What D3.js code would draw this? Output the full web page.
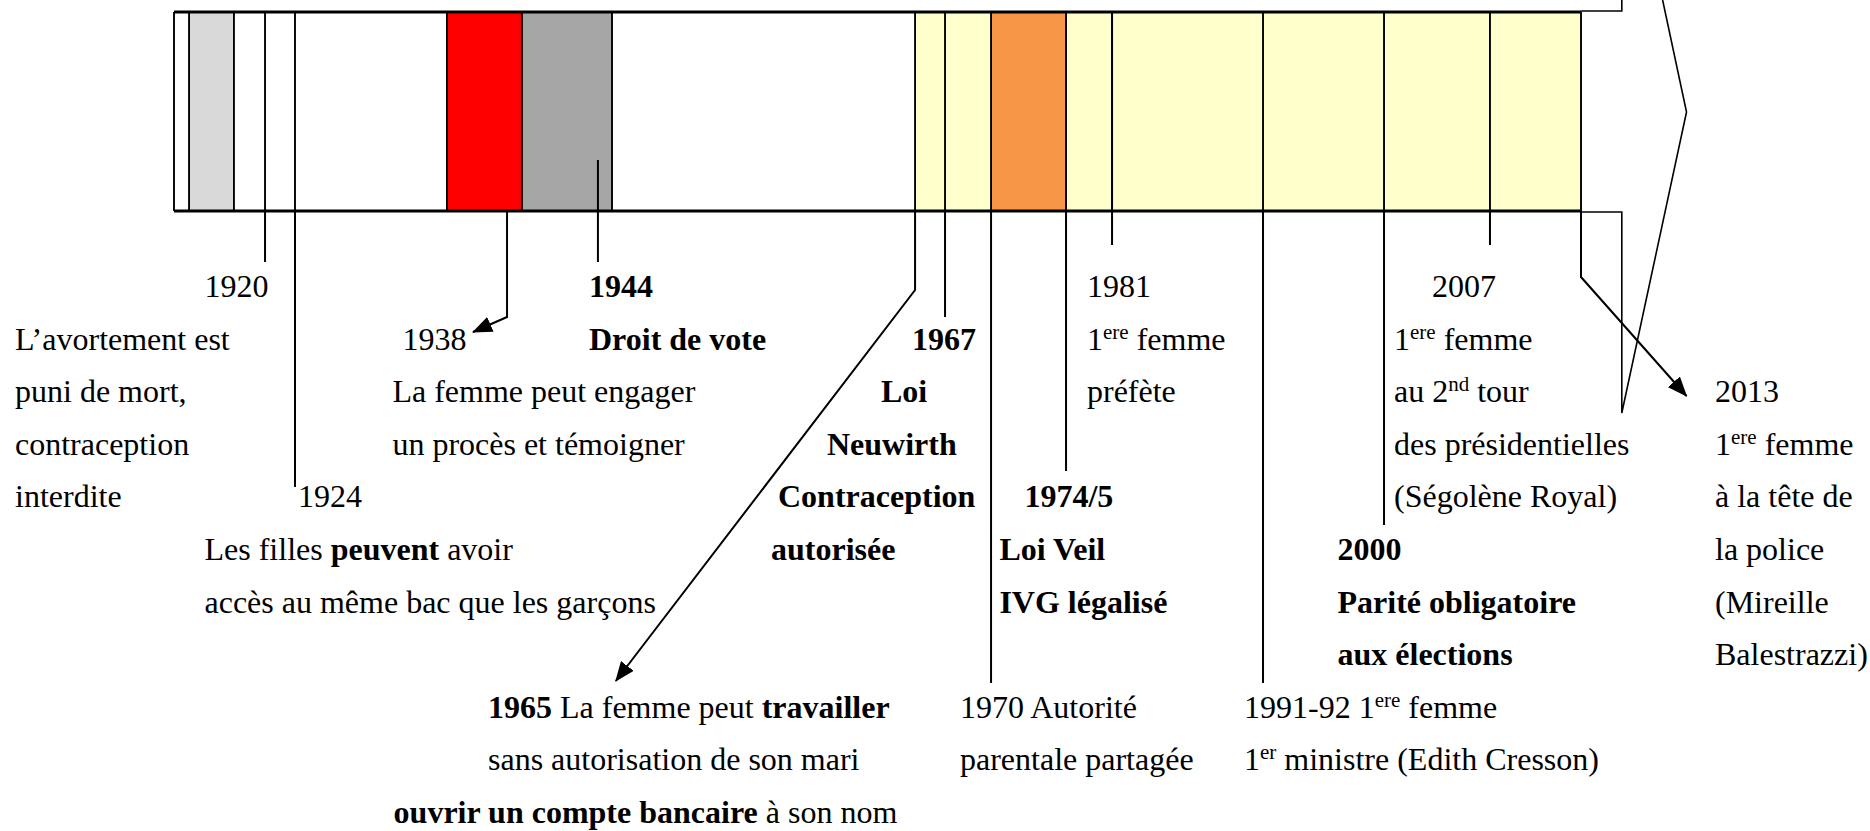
<!DOCTYPE html>
<html>
<head>
<meta charset="utf-8">
<script src="https://cdn.jsdelivr.net/npm/d3@7"></script>
<style>
  body { margin: 0; background: #fff; }
  svg { display: block; }
  text { font-family: "Liberation Serif", "Times New Roman", serif; font-size: 32px; fill: #000; }
</style>
</head>
<body>
<div id="chart"></div>
<script>
const bandFrom = [1.07, 19.4, 24.73, 52.67, 58.07];
const bandTo = [4.26, 24.73, 31.13, 100, 63.4];
const bandFills = ["#d9d9d9", "#ff0000", "#a6a6a6", "#ffffcc", "#f79646"];
const dividers = [0, 1.07, 4.26, 6.47, 8.6, 19.4, 24.73, 31.13, 52.67, 54.8, 58.07, 63.4, 66.67, 77.4, 86.0, 93.53, 100];

const events = ["1920", "1924", "1938", "1944", "1965", "1967", "1970", "1974/5", "1981", "1991-92", "2000", "2007", "2013"];
const eventPos = [6.47, 8.6, 23.67, 30.13, 52.67, 54.8, 58.07, 63.4, 66.67, 77.4, 86.0, 93.53, 100];

// label texts (** = bold, ^ = superscript)
const labelTexts = [
  ["1920"],
  ["L’avortement est", "puni de mort,", "contraception", "interdite"],
  ["1924"],
  ["Les filles **peuvent** avoir", "accès au même bac que les garçons"],
  ["1938"],
  ["La femme peut engager", "un procès et témoigner"],
  ["**1944**", "**Droit de vote**"],
  ["**1967**"], ["**Loi**"], ["**Neuwirth**"], ["**Contraception**"], ["**autorisée**"],
  ["**1965** La femme peut **travailler**", "sans autorisation de son mari"],
  ["**ouvrir un compte bancaire** à son nom"],
  ["**1974/5**"],
  ["**Loi Veil**", "**IVG légalisé**"],
  ["1970 Autorité", "parentale partagée"],
  ["1981", "1^ere^ femme", "préfète"],
  ["1991-92 1^ere^ femme", "1^er^ ministre (Edith Cresson)"],
  ["**2000**", "**Parité obligatoire**", "**aux élections**"],
  ["2007"],
  ["1^ere^ femme", "au 2^nd^ tour", "des présidentielles", "(Ségolène Royal)"],
  ["2013", "1^ere^ femme", "à la tête de", "la police", "(Mireille", "Balestrazzi)"]
];

const width = 1870, height = 831;
const barTop = 12, barBottom = 211;
const x = d3.scaleLinear().domain([0, 100]).range([174, 1581]);
const row = (k) => 297 + 52.6 * k;

// where each label block sits: [left x in px, first row]
const labelPlace = [
  [204.5, 0], [15, 1], [298, 4], [204.5, 5], [402.5, 1], [392.4, 2], [589, 0],
  [912, 1], [881, 2], [827, 3], [778, 4], [771, 5],
  [488, 8], [393.6, 10], [1024.4, 4], [999.4, 5], [960, 8], [1087, 0], [1244, 8],
  [1337.5, 5], [1432, 0], [1394, 1], [1715, 2]
];

// connector for each event: [start y, end y, arrow tip (% , y) or null]
const connectors = [
  [barBottom, 262, null],
  [barBottom, 487, null],
  [barBottom, 317, [21.25, 332]],
  [160, 262, null],
  [barBottom, 290, [31.4, 681]],
  [barBottom, 317, null],
  [barBottom, 683, null],
  [barBottom, 471, null],
  [barTop, 245, null],
  [barBottom, 683, null],
  [barBottom, 525, null],
  [barBottom, 245, null],
  [barBottom, 277, [107.5, 396]]
];

const svg = d3.select("#chart").append("svg")
  .attr("width", width).attr("height", height)
  .attr("viewBox", `0 0 ${width} ${height}`);

svg.append("defs").append("marker")
  .attr("id", "head")
  .attr("markerUnits", "userSpaceOnUse")
  .attr("viewBox", "0 0 20 16")
  .attr("refX", 19).attr("refY", 8)
  .attr("markerWidth", 20).attr("markerHeight", 16)
  .attr("orient", "auto")
  .append("path").attr("d", "M0,0 L20,8 L0,16 Z").attr("fill", "#000");

// bar bands
svg.append("g").selectAll("rect")
  .data(bandFrom)
  .join("rect")
  .attr("x", (d) => x(d))
  .attr("y", barTop)
  .attr("width", (d, i) => x(bandTo[i]) - x(d))
  .attr("height", barBottom - barTop)
  .attr("fill", (d, i) => bandFills[i]);

// vertical dividers inside the bar
svg.append("g").selectAll("line")
  .data(dividers)
  .join("line")
  .attr("x1", (d) => x(d)).attr("x2", (d) => x(d))
  .attr("y1", barTop).attr("y2", barBottom)
  .attr("stroke", "#000").attr("stroke-width", 1.9);

// frame of the big arrow shape on the right
const frame = svg.append("g").attr("fill", "none").attr("stroke", "#000").attr("stroke-width", 1.6);
frame.append("path").attr("d", `M${x(100)},11 L${x(102.9)},11 L${x(102.9)},0`);
frame.append("path").attr("d", `M${x(100)},212 L${x(102.9)},212 L${x(102.9)},413 L${x(107.5)},112 L${x(105.8)},0`);

// top and bottom edge of the bar
svg.append("g").selectAll("line")
  .data([barTop, barBottom])
  .join("line")
  .attr("x1", x(0)).attr("x2", x(100))
  .attr("y1", (d) => d).attr("y2", (d) => d)
  .attr("stroke", "#000").attr("stroke-width", 2.8);

// connectors from the bar to the labels
const conn = svg.append("g").attr("fill", "none").attr("stroke", "#000").attr("stroke-width", 2);
conn.selectAll("path")
  .data(events)
  .join("path")
  .attr("d", (d, i) => {
    const [y0, y1, tip] = connectors[i];
    const px = x(eventPos[i]);
    let p = `M${px},${y0} L${px},${y1}`;
    if (tip) p += ` L${x(tip[0])},${tip[1]}`;
    return p;
  })
  .attr("marker-end", (d, i) => connectors[i][2] ? "url(#head)" : null);

// rich text lines
function addLine(g, str, px, py) {
  const t = g.append("text").attr("x", px).attr("y", py);
  const parts = str.split(/(\*\*[^*]+\*\*|\^[^^]+\^)/).filter((s) => s.length);
  let raised = false;
  parts.forEach((s) => {
    const ts = t.append("tspan");
    if (s.startsWith("**")) {
      ts.text(s.slice(2, -2)).attr("font-weight", "bold");
      if (raised) { ts.attr("dy", 11); raised = false; }
    } else if (s.startsWith("^")) {
      ts.text(s.slice(1, -1)).attr("font-size", 21).attr("dy", -11);
      raised = true;
    } else {
      ts.text(s);
      if (raised) { ts.attr("dy", 11); raised = false; }
    }
  });
}

const labels = svg.append("g");
labelTexts.forEach((lines, i) => {
  const [lx, r] = labelPlace[i];
  lines.forEach((s, j) => addLine(labels, s, lx, row(r + j)));
});
</script>
</body>
</html>
